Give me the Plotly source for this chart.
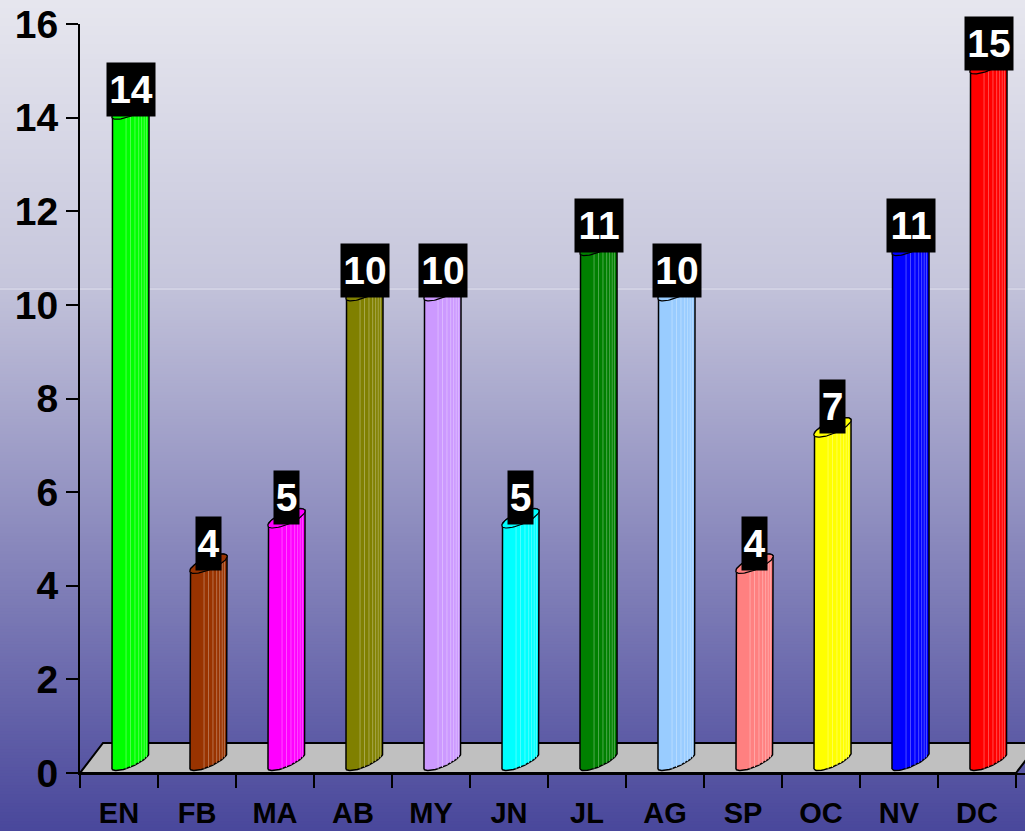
import numpy as np
import plotly.graph_objects as go

# data
months = ["EN", "FB", "MA", "AB", "MY", "JN", "JL", "AG", "SP", "OC", "NV", "DC"]
values = [14, 4, 5, 10, 10, 5, 11, 10, 4, 7, 11, 15]
bar_colors = ["#00ff00", "#993300", "#ff00ff", "#808000", "#cc99ff", "#00ffff",
              "#008000", "#99ccff", "#ff8080", "#ffff00", "#0000ff", "#ff0000"]
y_ticks = [0, 2, 4, 6, 8, 10, 12, 14, 16]

W, H = 1025, 831
ML, MR, MT, MB = 80, 0, 24, 58
PX_X = 78.0                       # px per category
PX_Y = (H - MT - MB) / 16.0       # px per y unit
x_range = [-0.5, -0.5 + (W - ML - MR) / PX_X]


def lighten(hex_color, k):
    r, g, b = (int(hex_color[i:i + 2], 16) for i in (1, 3, 5))
    r, g, b = (int(c + (255 - c) * k) for c in (r, g, b))
    return f"rgb({r},{g},{b})"


def ellipse(xl, yl, xr, yr, b_px, t):
    # tilted ellipse whose major axis runs from (xl,yl) to (xr,yr), worked out in pixels
    X1, Y1, X2, Y2 = xl * PX_X, yl * PX_Y, xr * PX_X, yr * PX_Y
    cx, cy = (X1 + X2) / 2, (Y1 + Y2) / 2
    a = np.hypot(X2 - X1, Y2 - Y1) / 2
    ux, uy = (X2 - X1) / (2 * a), (Y2 - Y1) / (2 * a)
    nx, ny = -uy, ux
    X = cx + a * np.cos(t) * ux + b_px * np.sin(t) * nx
    Y = cy + a * np.cos(t) * uy + b_px * np.sin(t) * ny
    return X / PX_X, Y / PX_Y


fig = go.Figure()

# gray floor of the 3D plot
depth_x, depth_y = 23 / PX_X, 30 / PX_Y
fig.add_trace(go.Scatter(
    x=[-0.5, -0.5 + depth_x, 11.5 + depth_x, 11.5, -0.5],
    y=[0, depth_y, depth_y, 0, 0],
    fill="toself", fillcolor="#c0c0c0", mode="lines",
    line=dict(color="black", width=2), hoverinfo="skip", showlegend=False))

half_up = np.linspace(np.pi, 0, 40)
half_down = np.linspace(np.pi, 2 * np.pi, 40)
full = np.linspace(0, 2 * np.pi, 80)
stripes = [0.38, 0.5, 0.62, 0.72, 0.8, 0.87, 0.93]

for i, (m, v, c) in enumerate(zip(months, values, bar_colors)):
    L, R = i - 0.09, i + 0.385
    # bars stand a little back on the floor, so the top is projected slightly
    top_l = v * 0.97 + 0.42
    top_r = top_l + 16 / PX_Y
    bot_l, bot_r = 4 / PX_Y, 21 / PX_Y

    tx, ty = ellipse(L, top_l, R, top_r, 6, half_up)
    bx, by = ellipse(L, bot_l, R, bot_r, 6, half_down)
    body_x = [L] + list(tx) + [R] + list(bx[::-1])
    body_y = [bot_l] + list(ty) + [bot_r] + list(by[::-1])
    fig.add_trace(go.Scatter(
        x=body_x, y=body_y, fill="toself", fillcolor=c, mode="lines",
        line=dict(color="black", width=1.5), hoverinfo="skip", showlegend=False))

    # vertical shading stripes
    fx, fy = ellipse(L, top_l, R, top_r, 6, half_down)
    sx, sy = [], []
    for f in stripes:
        xx = L + f * (R - L)
        sx += [xx, xx, None]
        sy += [np.interp(xx, bx, by), np.interp(xx, fx, fy), None]
    fig.add_trace(go.Scatter(
        x=sx, y=sy, mode="lines", line=dict(color=lighten(c, 0.3), width=1),
        hoverinfo="skip", showlegend=False))

    # top cap
    ex, ey = ellipse(L, top_l, R, top_r, 6, full)
    fig.add_trace(go.Scatter(
        x=ex, y=ey, fill="toself", fillcolor=c, mode="lines",
        line=dict(color="black", width=1.2), hoverinfo="skip", showlegend=False))

    txt = str(v)
    fig.add_annotation(
        x=(L + R) / 2, y=top_l, text=txt, showarrow=False,
        xanchor="center", yanchor="bottom", yshift=1,
        width=23 * len(txt), height=51, valign="middle",
        font=dict(family="Liberation Sans", size=39, color="white", weight="bold"),
        bgcolor="black", borderpad=1)

# background gradient (light gray on top, blue at the bottom)
def bg_color(ypx):
    if ypx <= 289:
        k = ypx / 289
        c0, c1 = (231, 231, 239), (198, 198, 220)
    else:
        k = (ypx - 290) / (H - 290)
        c0, c1 = (194, 194, 218), (74, 72, 156)
    return "rgb(%d,%d,%d)" % tuple(a + (b - a) * k for a, b in zip(c0, c1))


plot_h = H - MT - MB
shapes = []
step = 3
for y0 in range(0, H, step):
    shapes.append(dict(
        type="rect", xref="paper", yref="paper", layer="below",
        x0=-ML / (W - ML) - 0.01, x1=1.01,
        y0=(H - MB - y0) / plot_h + 0.001, y1=(H - MB - y0 - step) / plot_h - 0.001,
        fillcolor=bg_color(y0 + step / 2), line=dict(width=0)))
shapes.append(dict(
    type="line", xref="paper", yref="paper", layer="below",
    x0=-ML / (W - ML) - 0.01, x1=1.01,
    y0=(H - MB - 289) / plot_h, y1=(H - MB - 289) / plot_h,
    line=dict(color="rgb(225,225,238)", width=1)))

tick_font = dict(family="Liberation Sans", color="black", weight="bold")
fig.update_layout(
    width=W, height=H,
    margin=dict(l=ML, r=MR, t=MT, b=MB),
    paper_bgcolor="#4a489c", plot_bgcolor="rgba(0,0,0,0)",
    shapes=shapes,
    xaxis=dict(
        range=x_range, tickmode="array", tickvals=list(range(len(months))),
        ticktext=months, ticks="outside", ticklen=13, tickcolor="rgba(0,0,0,0)",
        tickfont=dict(size=29, **tick_font),
        showgrid=False, zeroline=False, showline=True, linecolor="black", linewidth=2,
        minor=dict(tickmode="array", tickvals=[k - 0.5 for k in range(len(months) + 1)],
                   ticks="outside", ticklen=13, tickwidth=2, tickcolor="black",
                   showgrid=False)),
    yaxis=dict(
        range=[0, 16], tickmode="array", tickvals=y_ticks,
        ticks="outside", ticklen=12, tickwidth=2, tickcolor="black",
        tickfont=dict(size=39, **tick_font),
        showgrid=False, zeroline=False, showline=True, linecolor="black", linewidth=2),
)

# drop the browser's default 8px body margin so the chart sits at the page corner
fig.write_html("out.html", config={"displayModeBar": False},
               post_script="document.body.style.margin='0';")
